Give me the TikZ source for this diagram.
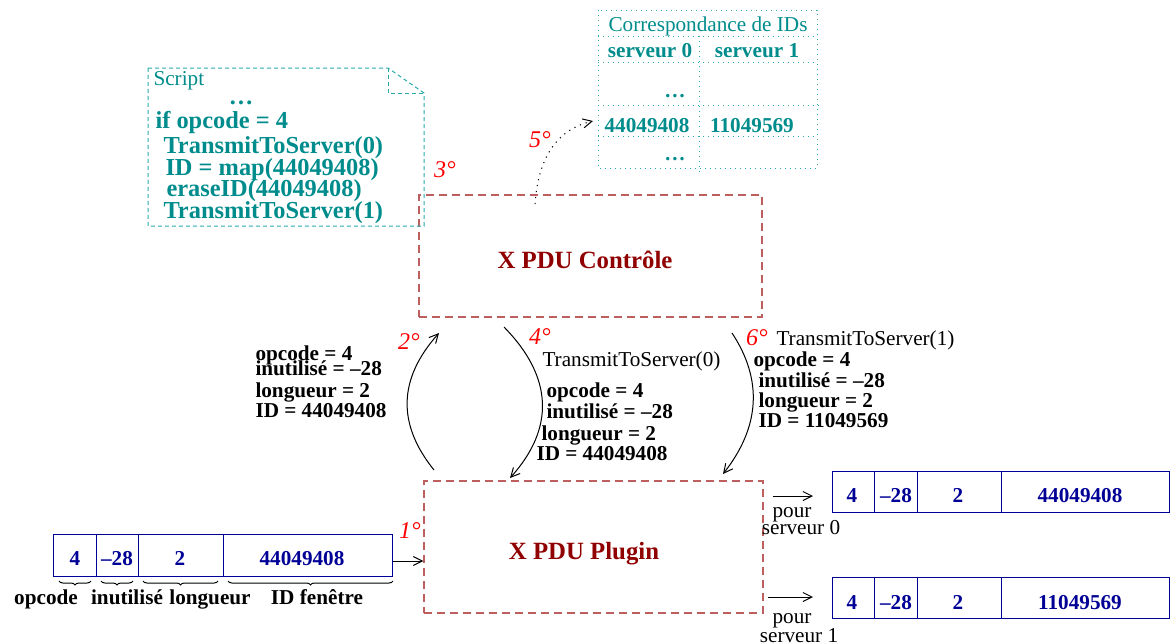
\documentclass[tikz,border=0pt]{standalone}
\usepackage{fontspec}
\setmainfont{Liberation Serif}
\usetikzlibrary{arrows.meta,decorations.pathreplacing}
\definecolor{pdured}{RGB}{144,0,0}
\definecolor{boxred}{RGB}{190,95,95}
\definecolor{scriptcyan}{RGB}{0,140,140}
\definecolor{tablecyan}{RGB}{40,170,170}
\definecolor{pktblue}{RGB}{0,0,150}
\definecolor{stepred}{RGB}{255,0,0}
\newcommand{\mainsize}{\fontsize{10.6}{12}\selectfont}
\tikzset{
  txt/.style={inner sep=0pt, text height=7pt, text depth=0pt, font=\mainsize},
  info/.style={txt, anchor=west, font=\mainsize\bfseries},
  plain/.style={txt, anchor=west},
  stepnum/.style={txt, text=stepred, font=\fontsize{12}{14}\selectfont\itshape},
  pdubox/.style={draw=boxred, dash pattern=on 4pt off 2.5pt, line width=0.6pt, inner sep=0pt},
  pdutitle/.style={inner sep=0pt, text height=8.2pt, text depth=0pt, text=pdured, font=\fontsize{12.4}{14}\selectfont\bfseries},
  scriptline/.style={inner sep=0pt, text height=8pt, text depth=0pt, anchor=west, text=scriptcyan, font=\fontsize{12.2}{14}\selectfont\bfseries},
  cell/.style={txt, text=scriptcyan, font=\mainsize\bfseries},
  packet/.style={draw=pktblue, inner sep=0pt, minimum width=168.5pt, minimum height=20.5pt},
  pktval/.style={txt, text=pktblue, font=\mainsize\bfseries}
}
\begin{document}
\begin{tikzpicture}[x=0.5pt,y=-0.5pt,line width=0.5pt,>={Straight Barb[length=4.5pt,width=4.5pt]}]
  \useasboundingbox (0,0) rectangle (1170,643);

  % the two X PDU boxes
  \node[pdubox, minimum width=171.5pt, minimum height=61pt] (ctrl) at (590.5,256) {};
  \node[pdutitle] (ctrltitle) at (585,260) {X PDU Contrôle};
  \node[pdubox, minimum width=169.5pt, minimum height=66pt] (plugin) at (593.5,547) {};
  \node[pdutitle] (plugintitle) at (584,551) {X PDU Plugin};

  % script
  \draw[tablecyan, dash pattern=on 2pt off 1.5pt] (148,68) -- (388,68) -- (424,93) -- (424,226) -- (148,226) -- cycle;
  \draw[tablecyan, dash pattern=on 2pt off 1.5pt] (388,68) -- (388,93) -- (424,93);
  \node[plain, text=scriptcyan] (scripthead) at (153,78) {Script};
  \node[scriptline, anchor=center] (scriptdots) at (241,96) {\dots};
  \node[scriptline] (scriptif) at (155,120) {if opcode = 4};
  \node[scriptline] (scriptsend0) at (163,145) {TransmitToServer(0)};
  \node[scriptline] (scriptmap) at (165,167) {ID = map(44049408)};
  \node[scriptline] (scripterase) at (166,188) {eraseID(44049408)};
  \node[scriptline] (scriptsend1) at (163,210) {TransmitToServer(1)};

  % table of IDs
  \draw[tablecyan, dotted] (598,10) rectangle (817,168);
  \draw[tablecyan, dotted] (598,36) -- (817,36);
  \draw[tablecyan, dotted] (598,62) -- (817,62);
  \draw[tablecyan, dotted] (598,105) -- (822,105);
  \draw[tablecyan, dotted] (598,136) -- (817,136);
  \draw[tablecyan, dotted] (699,36) -- (699,172);
  \node[txt, text=scriptcyan] (tabtitle) at (708,24) {Correspondance de IDs};
  \node[cell] (head0) at (650,50) {serveur 0};
  \node[cell] (head1) at (757,50) {serveur 1};
  \node[cell] (dotsa) at (675,90) {\dots};
  \node[cell] (id0) at (647,125) {44049408};
  \node[cell] (id1) at (752,125) {11049569};
  \node[cell] (dotsb) at (675,153) {\dots};

  % step numbers
  \node[stepnum] (s1) at (410,531) {1°};
  \node[stepnum] (s2) at (409,342) {2°};
  \node[stepnum] (s3) at (445,170) {3°};
  \node[stepnum] (s4) at (540,337) {4°};
  \node[stepnum] (s5) at (540,140) {5°};
  \node[stepnum] (s6) at (757,338) {6°};

  % 5: lookup in the table
  \coordinate (a5s) at (535,204);
  \coordinate (a5e) at (593,121);
  \draw[->, dash pattern=on 0.6pt off 2.4pt] (a5s) .. controls (538,160) and (555,130) .. (a5e);

  % 2: plugin -> control
  \coordinate (a2s) at (434,470);
  \coordinate (a2e) at (439,333);
  \draw[->] (a2s) .. controls (397,424) and (398,379) .. (a2e);
  \node[info] (l2a) at (255,353) {opcode = 4};
  \node[info] (l2b) at (255,368) {inutilisé = –28};
  \node[info] (l2c) at (255,390) {longueur = 2};
  \node[info] (l2d) at (255,410) {ID = 44049408};

  % 4: control -> plugin, server 0
  \coordinate (a4s) at (504,327);
  \coordinate (a4e) at (510,478);
  \draw[->] (a4s) .. controls (553,377) and (555,428) .. (a4e);
  \node[plain] (l4t) at (542,359) {TransmitToServer(0)};
  \node[info] (l4a) at (546,390) {opcode = 4};
  \node[info] (l4b) at (546,411) {inutilisé = –28};
  \node[info] (l4c) at (541,433) {longueur = 2};
  \node[info] (l4d) at (536,453) {ID = 44049408};

  % 6: control -> plugin, server 1
  \coordinate (a6s) at (732,333);
  \coordinate (a6e) at (723,474);
  \draw[->] (a6s) .. controls (763,380) and (760,427) .. (a6e);
  \node[plain] (l6t) at (776,338) {TransmitToServer(1)};
  \node[info] (l6a) at (753,359) {opcode = 4};
  \node[info] (l6b) at (758,380) {inutilisé = –28};
  \node[info] (l6c) at (758,400) {longueur = 2};
  \node[info] (l6d) at (758,420) {ID = 11049569};

  % incoming packet
  \node[packet, minimum width=169.5pt, minimum height=21pt] (inpkt) at (222.5,555) {};
  \foreach \x in {96,138,223}
    \draw[pktblue] (\x,534) -- (\x,576);
  \foreach \x/\v [count=\i] in {75/4, 117/–28, 180/2, 302/44049408}
    \node[pktval] (inval\i) at (\x,558) {\v};
  \foreach \a/\b/\c/\t [count=\i] in {59/91/46/opcode, 101/133/127/inutilisé, 143/218/210/longueur, 228/393/317/ID fenêtre} {
    \draw[decorate, decoration={brace, mirror, amplitude=2pt}] (\a,581) -- (\b,581);
    \node[info, anchor=center] (fld\i) at (\c,597) {\t};
  }
  \draw[->] ([yshift=-3pt]inpkt.east) -- ([yshift=-3pt]inpkt.east -| plugin.west);

  % outgoing packets
  \node[packet] (outpkta) at (1000.5,491.5) {};
  \node[packet] (outpktb) at (1000.5,597.5) {};
  \foreach \x in {874,917,1001} {
    \draw[pktblue] (\x,471) -- (\x,512);
    \draw[pktblue] (\x,577) -- (\x,618);
  }
  \foreach \x/\v [count=\i] in {852/4, 896/–28, 958/2, 1080/44049408}
    \node[pktval] (outa\i) at (\x,495) {\v};
  \foreach \x/\v [count=\i] in {852/4, 896/–28, 958/2, 1080/11049569}
    \node[pktval] (outb\i) at (\x,602) {\v};

  \coordinate (p0s) at (773,496);
  \coordinate (p0e) at (813,496);
  \draw[->] (p0s) -- (p0e);
  \node[txt] (pour0) at (792,510) {pour};
  \node[txt] (serv0) at (801,527) {serveur 0};
  \coordinate (p1s) at (768,597);
  \coordinate (p1e) at (813,597);
  \draw[->] (p1s) -- (p1e);
  \node[txt] (pour1) at (792,616) {pour};
  \node[txt] (serv1) at (799,635) {serveur 1};
\end{tikzpicture}
\end{document}
